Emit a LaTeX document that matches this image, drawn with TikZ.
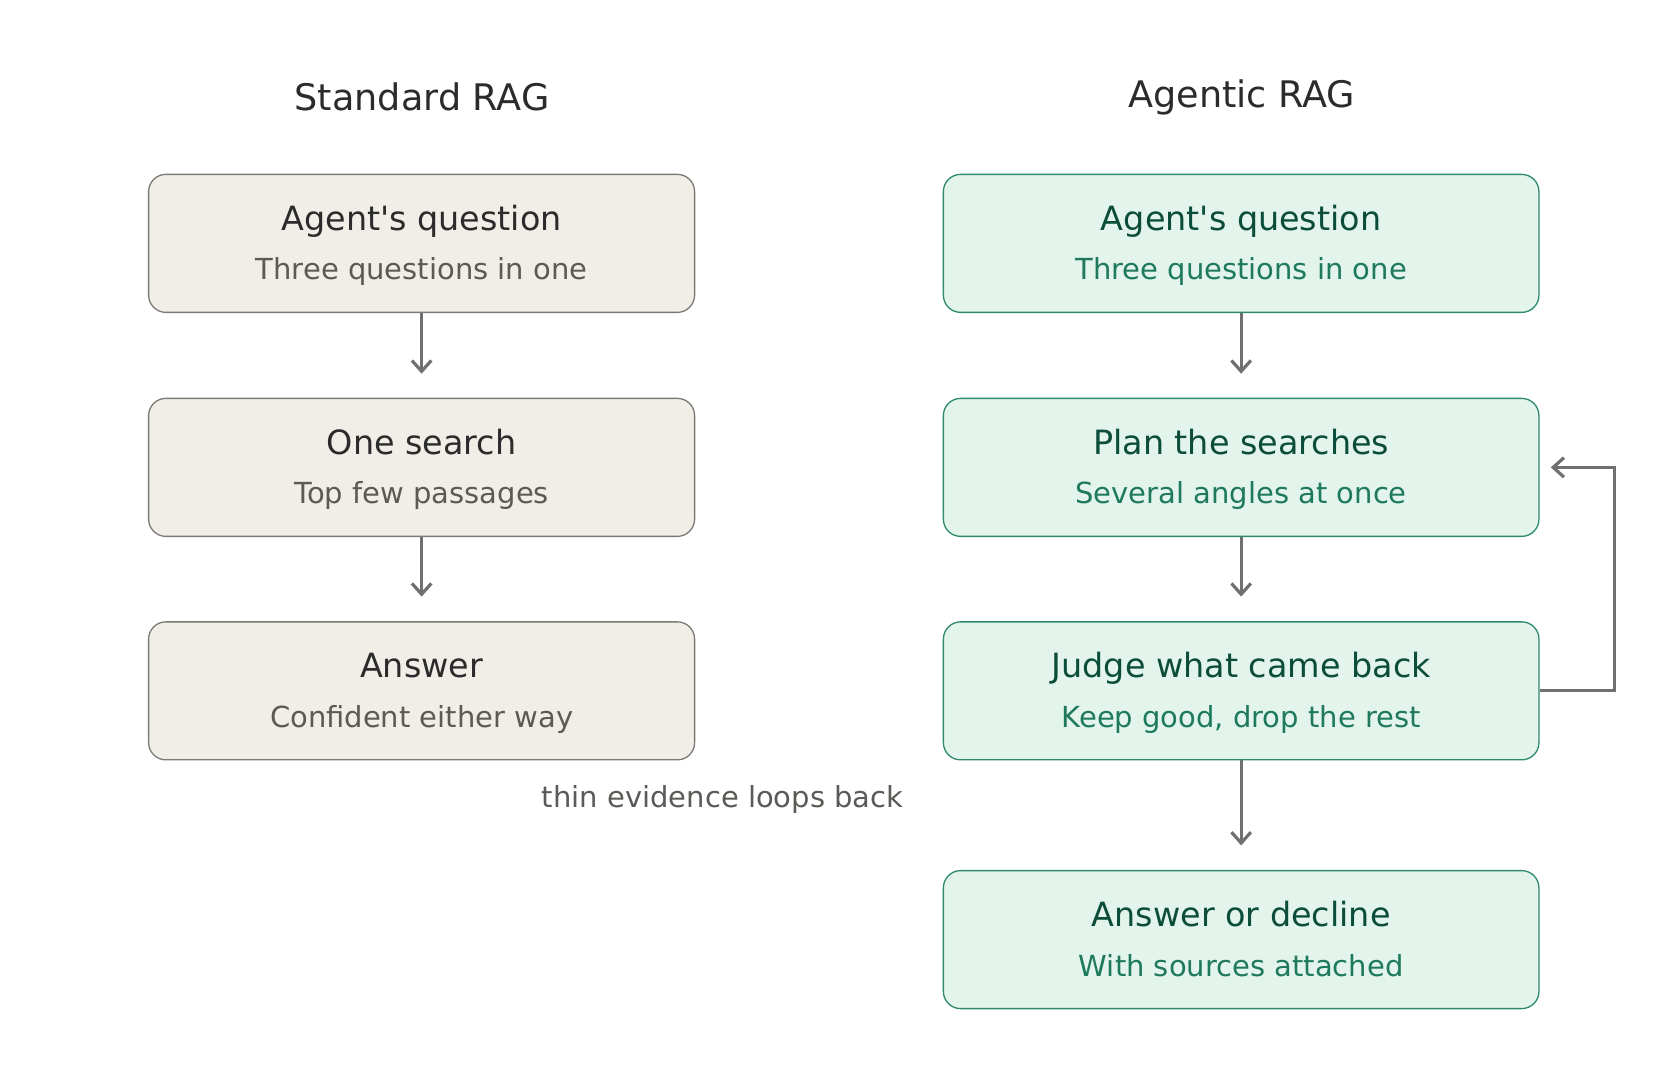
\documentclass[tikz,border=0pt]{standalone}
\usepackage{fontspec}
\setmainfont{DejaVu Sans}
\usetikzlibrary{arrows.meta}
\definecolor{lfill}{HTML}{F1EEE8}
\definecolor{lline}{HTML}{7A7A76}
\definecolor{ltitle}{HTML}{2B2B2B}
\definecolor{lsub}{HTML}{5C5A56}
\definecolor{rfill}{HTML}{E2F4EC}
\definecolor{rline}{HTML}{2E8B6A}
\definecolor{rtitle}{HTML}{0B4D3A}
\definecolor{rsub}{HTML}{1E7A5A}
\definecolor{arr}{HTML}{707070}
\begin{document}
\begin{tikzpicture}[x=0.5385pt,y=-0.5385pt,
  lbox/.style={draw=lline,fill=lfill,rounded corners=8.6pt,line width=0.65pt,minimum width=273pt,minimum height=69pt,inner sep=0pt},
  rbox/.style={draw=rline,fill=rfill,rounded corners=8.6pt,line width=0.65pt,minimum width=297.8pt,minimum height=69pt,inner sep=0pt},
  ar/.style={draw=arr,line width=1.6pt,-{Straight Barb[length=5.4pt,width=9.7pt]}},
  hd/.style={font=\fontsize{18.3}{22}\selectfont,text=ltitle}]
\useasboundingbox (0,0) rectangle (1560,1001);
\node[hd] (h1) at (392,90) {Standard RAG};
\node[hd] (h2) at (1153,90) {Agentic RAG};
\newcommand{\mybox}[7]{\node[#1] (#2) at #3 {};
 \node[font=\fontsize{16.7}{20}\selectfont,text=#4,anchor=base] at ([yshift=6.5pt]#2.center) {#5};
 \node[font=\fontsize{14.5}{17}\selectfont,text=#6,anchor=base] at ([yshift=-18.3pt]#2.center) {#7};}
\mybox{lbox}{l1}{(391.5,226)}{ltitle}{Agent\textquotesingle s question}{lsub}{Three questions in one}
\mybox{lbox}{l2}{(391.5,434)}{ltitle}{One search}{lsub}{Top few passages}
\mybox{lbox}{l3}{(391.5,641.5)}{ltitle}{Answer}{lsub}{Confident either way}
\mybox{rbox}{r1}{(1152.5,226)}{rtitle}{Agent\textquotesingle s question}{rsub}{Three questions in one}
\mybox{rbox}{r2}{(1152.5,434)}{rtitle}{Plan the searches}{rsub}{Several angles at once}
\mybox{rbox}{r3}{(1152.5,641.5)}{rtitle}{Judge what came back}{rsub}{Keep good, drop the rest}
\mybox{rbox}{r4}{(1152.5,872.5)}{rtitle}{Answer or decline}{rsub}{With sources attached}
\coordinate (e1) at (391.5,347); \coordinate (e2) at (391.5,554);
\coordinate (e3) at (1152.5,347); \coordinate (e4) at (1152.5,554); \coordinate (e5) at (1152.5,785);
\draw[ar] (l1.south) -- (e1);
\draw[ar] (l2.south) -- (e2);
\draw[ar] (r1.south) -- (e3);
\draw[ar] (r2.south) -- (e4);
\draw[ar] (r3.south) -- (e5);
\coordinate (lp) at (1440,434);
\draw[ar] (r3.east) -- (1499,641.5) -- (1499,434) -- (lp);
\node[font=\fontsize{14.5}{17}\selectfont,text=lsub] (lab) at (671,742) {thin evidence loops back};
\end{tikzpicture}
\end{document}
